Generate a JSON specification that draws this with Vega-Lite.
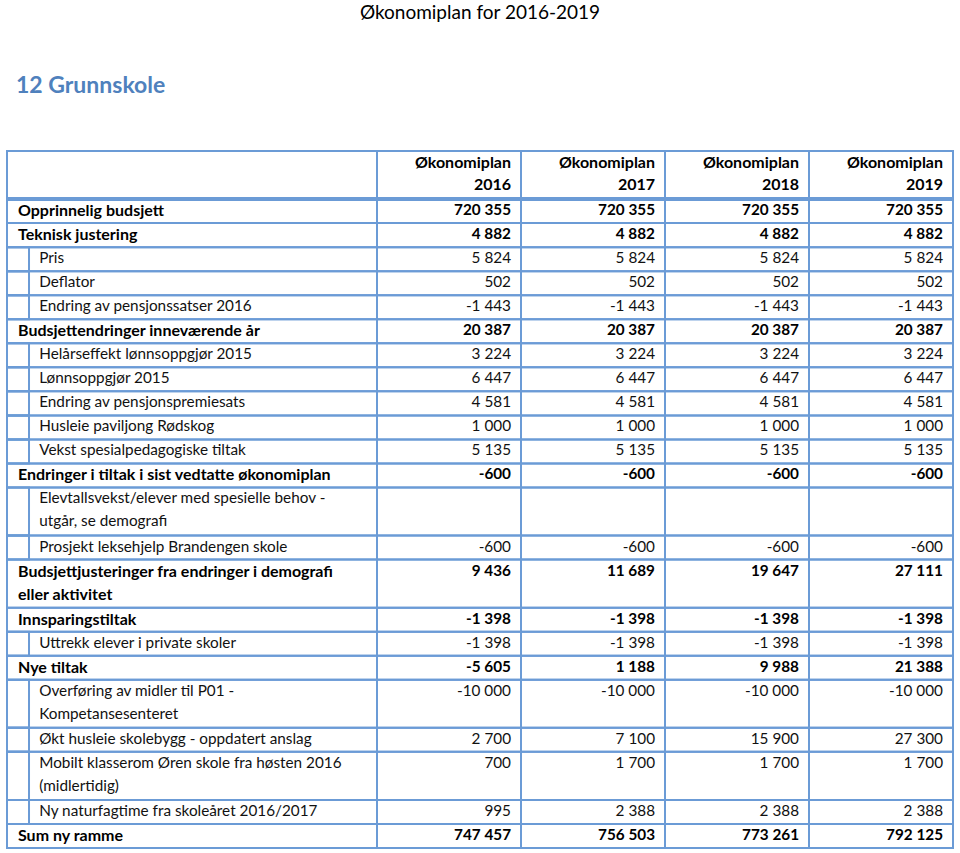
{
  "$schema": "https://vega.github.io/schema/vega-lite/v6.json",
  "padding": {"left": 5, "top": 4, "right": 0, "bottom": 0},
  "background": "white",
  "config": {
    "view": {"stroke": null},
    "font": "Lato",
    "locale": {"number": {"decimal": ",", "thousands": " ", "grouping": [3], "currency": ["", " kr"], "minus": "-"}}
  },
  "datasets": {
    "rows": [
      {"order": 0, "label": "", "level": "header", "lines": 2, "2016": null, "2017": null, "2018": null, "2019": null},
      {"order": 1, "label": "Opprinnelig budsjett", "level": "main", "lines": 1, "2016": 720355, "2017": 720355, "2018": 720355, "2019": 720355},
      {"order": 2, "label": "Teknisk justering", "level": "main", "lines": 1, "2016": 4882, "2017": 4882, "2018": 4882, "2019": 4882},
      {"order": 3, "label": "Pris", "level": "sub", "lines": 1, "2016": 5824, "2017": 5824, "2018": 5824, "2019": 5824},
      {"order": 4, "label": "Deflator", "level": "sub", "lines": 1, "2016": 502, "2017": 502, "2018": 502, "2019": 502},
      {"order": 5, "label": "Endring av pensjonssatser 2016", "level": "sub", "lines": 1, "2016": -1443, "2017": -1443, "2018": -1443, "2019": -1443},
      {"order": 6, "label": "Budsjettendringer inneværende år", "level": "main", "lines": 1, "2016": 20387, "2017": 20387, "2018": 20387, "2019": 20387},
      {"order": 7, "label": "Helårseffekt lønnsoppgjør 2015", "level": "sub", "lines": 1, "2016": 3224, "2017": 3224, "2018": 3224, "2019": 3224},
      {"order": 8, "label": "Lønnsoppgjør 2015", "level": "sub", "lines": 1, "2016": 6447, "2017": 6447, "2018": 6447, "2019": 6447},
      {"order": 9, "label": "Endring av pensjonspremiesats", "level": "sub", "lines": 1, "2016": 4581, "2017": 4581, "2018": 4581, "2019": 4581},
      {"order": 10, "label": "Husleie paviljong Rødskog", "level": "sub", "lines": 1, "2016": 1000, "2017": 1000, "2018": 1000, "2019": 1000},
      {"order": 11, "label": "Vekst spesialpedagogiske tiltak", "level": "sub", "lines": 1, "2016": 5135, "2017": 5135, "2018": 5135, "2019": 5135},
      {"order": 12, "label": "Endringer i tiltak i sist vedtatte økonomiplan", "level": "main", "lines": 1, "2016": -600, "2017": -600, "2018": -600, "2019": -600},
      {"order": 13, "label": "Elevtallsvekst/elever med spesielle behov -\nutgår, se demografi", "level": "sub", "lines": 2, "2016": null, "2017": null, "2018": null, "2019": null},
      {"order": 14, "label": "Prosjekt leksehjelp Brandengen skole", "level": "sub", "lines": 1, "2016": -600, "2017": -600, "2018": -600, "2019": -600},
      {"order": 15, "label": "Budsjettjusteringer fra endringer i demografi\neller aktivitet", "level": "main", "lines": 2, "2016": 9436, "2017": 11689, "2018": 19647, "2019": 27111},
      {"order": 16, "label": "Innsparingstiltak", "level": "main", "lines": 1, "2016": -1398, "2017": -1398, "2018": -1398, "2019": -1398},
      {"order": 17, "label": "Uttrekk elever i private skoler", "level": "sub", "lines": 1, "2016": -1398, "2017": -1398, "2018": -1398, "2019": -1398},
      {"order": 18, "label": "Nye tiltak", "level": "main", "lines": 1, "2016": -5605, "2017": 1188, "2018": 9988, "2019": 21388},
      {"order": 19, "label": "Overføring av midler til P01 -\nKompetansesenteret", "level": "sub", "lines": 2, "2016": -10000, "2017": -10000, "2018": -10000, "2019": -10000},
      {"order": 20, "label": "Økt husleie skolebygg - oppdatert anslag", "level": "sub", "lines": 1, "2016": 2700, "2017": 7100, "2018": 15900, "2019": 27300},
      {"order": 21, "label": "Mobilt klasserom Øren skole fra høsten 2016\n(midlertidig)", "level": "sub", "lines": 2, "2016": 700, "2017": 1700, "2018": 1700, "2019": 1700},
      {"order": 22, "label": "Ny naturfagtime fra skoleåret 2016/2017", "level": "sub", "lines": 1, "2016": 995, "2017": 2388, "2018": 2388, "2019": 2388},
      {"order": 23, "label": "Sum ny ramme", "level": "main", "lines": 1, "2016": 747457, "2017": 756503, "2018": 773261, "2019": 792125}
    ],
    "years": [
      {"year": "2016", "head": "Økonomiplan\n2016"},
      {"year": "2017", "head": "Økonomiplan\n2017"},
      {"year": "2018", "head": "Økonomiplan\n2018"},
      {"year": "2019", "head": "Økonomiplan\n2019"}
    ]
  },
  "title": {"text": "Økonomiplan for 2016-2019", "anchor": "middle", "fontSize": 19, "fontWeight": "normal", "color": "#000000", "offset": 52},
  "bounds": "flush",
  "spacing": 0,
  "hconcat": [
    {
      "title": {"text": "12 Grunnskole", "anchor": "start", "dx": 11, "fontSize": 23, "fontWeight": "bold", "color": "#4F81BD", "offset": 52},
      "width": 370,
      "height": 697,
      "layer": [
        {
          "data": {"name": "rows"},
          "transform": [
            {"window": [{"op": "sum", "field": "lines", "as": "end"}], "sort": [{"field": "order"}]},
            {"window": [{"op": "lag", "field": "end", "as": "start"}], "sort": [{"field": "order"}]},
            {"filter": {"field": "start", "valid": true}}
          ],
          "layer": [
            {
              "mark": {"type": "rect", "filled": false, "stroke": "#6B9BD6", "strokeWidth": 2},
              "encoding": {
                "x": {"datum": 0, "type": "quantitative", "scale": {"domain": [0, 1], "nice": false}, "axis": null},
                "x2": {"datum": 1},
                "y": {"field": "start", "type": "quantitative", "scale": {"domain": [0, 29], "nice": false, "reverse": true}, "axis": null},
                "y2": {"field": "end"}
              }
            },
            {
              "transform": [{"filter": "datum.level === 'sub'"}],
              "mark": {"type": "rect", "filled": false, "stroke": "#6B9BD6", "strokeWidth": 2},
              "encoding": {
                "x": {"datum": 0, "type": "quantitative"},
                "x2": {"datum": 0.0595},
                "y": {"field": "start", "type": "quantitative"},
                "y2": {"field": "end"}
              }
            },
            {
              "transform": [{"filter": "datum.level === 'main'"}],
              "mark": {"type": "text", "align": "left", "baseline": "top", "dy": 4, "fontSize": 16, "fontWeight": "bold", "color": "#000000", "lineBreak": "\n", "lineHeight": 23},
              "encoding": {
                "x": {"datum": 0.0297, "type": "quantitative"},
                "y": {"field": "start", "type": "quantitative"},
                "text": {"field": "label", "type": "nominal"}
              }
            },
            {
              "transform": [{"filter": "datum.level === 'sub'"}],
              "mark": {"type": "text", "align": "left", "baseline": "top", "dy": 4, "fontSize": 15.3, "fontWeight": "normal", "color": "#111111", "lineBreak": "\n", "lineHeight": 23},
              "encoding": {
                "x": {"datum": 0.087, "type": "quantitative"},
                "y": {"field": "start", "type": "quantitative"},
                "text": {"field": "label", "type": "nominal"}
              }
            }
          ]
        },
        {
          "data": {"values": [{}]},
          "mark": {"type": "rect", "filled": false, "stroke": "#6B9BD6", "strokeWidth": 2},
          "encoding": {
            "x": {"datum": 0, "type": "quantitative"},
            "x2": {"datum": 1},
            "y": {"datum": 0, "type": "quantitative"},
            "y2": {"datum": 2}
          }
        },
        {
          "data": {"values": [{}]},
          "mark": {"type": "rule", "stroke": "#6B9BD6", "strokeWidth": 4},
          "encoding": {"y": {"datum": 2, "type": "quantitative"}}
        }
      ]
    },
    {
      "width": 576,
      "height": 697,
      "layer": [
        {
          "data": {"name": "rows"},
          "transform": [
            {"window": [{"op": "sum", "field": "lines", "as": "end"}], "sort": [{"field": "order"}]},
            {"window": [{"op": "lag", "field": "end", "as": "start"}], "sort": [{"field": "order"}]},
            {"filter": {"field": "start", "valid": true}},
            {"fold": ["2016", "2017", "2018", "2019"], "as": ["year", "value"]}
          ],
          "layer": [
            {
              "mark": {"type": "rect", "filled": false, "stroke": "#6B9BD6", "strokeWidth": 2},
              "encoding": {
                "x": {"field": "year", "type": "nominal", "scale": {"domain": ["2016", "2017", "2018", "2019"], "paddingInner": 0, "paddingOuter": 0}, "axis": null},
                "y": {"field": "start", "type": "quantitative", "scale": {"domain": [0, 29], "nice": false, "reverse": true}, "axis": null},
                "y2": {"field": "end"}
              }
            },
            {
              "transform": [{"filter": "datum.level === 'main'"}, {"filter": {"field": "value", "valid": true}}],
              "mark": {"type": "text", "align": "right", "baseline": "top", "dx": -10, "dy": 4, "fontSize": 15.3, "fontWeight": "bold", "color": "#000000"},
              "encoding": {
                "x": {"field": "year", "type": "nominal", "bandPosition": 1},
                "y": {"field": "start", "type": "quantitative"},
                "text": {"field": "value", "type": "quantitative", "format": ",d"}
              }
            },
            {
              "transform": [{"filter": "datum.level === 'sub'"}, {"filter": {"field": "value", "valid": true}}],
              "mark": {"type": "text", "align": "right", "baseline": "top", "dx": -10, "dy": 4, "fontSize": 15.3, "fontWeight": "normal", "color": "#111111"},
              "encoding": {
                "x": {"field": "year", "type": "nominal", "bandPosition": 1},
                "y": {"field": "start", "type": "quantitative"},
                "text": {"field": "value", "type": "quantitative", "format": ",d"}
              }
            }
          ]
        },
        {
          "data": {"name": "years"},
          "layer": [
            {
              "mark": {"type": "rect", "filled": false, "stroke": "#6B9BD6", "strokeWidth": 2},
              "encoding": {
                "x": {"field": "year", "type": "nominal"},
                "y": {"datum": 0, "type": "quantitative"},
                "y2": {"datum": 2}
              }
            },
            {
              "mark": {"type": "text", "align": "right", "baseline": "top", "dx": -10, "dy": 4, "fontSize": 16, "fontWeight": "bold", "color": "#000000", "lineBreak": "\n", "lineHeight": 22},
              "encoding": {
                "x": {"field": "year", "type": "nominal", "bandPosition": 1},
                "y": {"datum": 0, "type": "quantitative"},
                "text": {"field": "head", "type": "nominal"}
              }
            }
          ]
        },
        {
          "data": {"values": [{}]},
          "mark": {"type": "rule", "stroke": "#6B9BD6", "strokeWidth": 4},
          "encoding": {"y": {"datum": 2, "type": "quantitative"}}
        }
      ]
    }
  ]
}
